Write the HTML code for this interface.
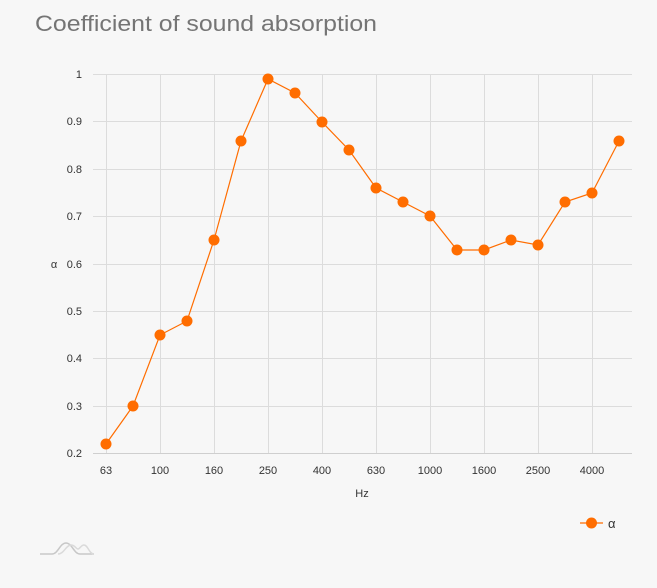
<!DOCTYPE html>
<html><head><meta charset="utf-8"><style>
html,body{margin:0;padding:0;background:#f7f7f7;}
svg{display:block;font-family:"Liberation Sans",sans-serif;}
</style></head><body>
<svg width="657" height="588" viewBox="0 0 657 588" xmlns="http://www.w3.org/2000/svg">
<rect width="657" height="588" fill="#f7f7f7"/>
<text x="35" y="31" font-size="22" fill="#757575" textLength="342" lengthAdjust="spacingAndGlyphs">Coefficient of sound absorption</text>
<g stroke="#dcdcdc" stroke-width="1">
<line x1="93" x2="632" y1="74.5" y2="74.5"/>
<line x1="93" x2="632" y1="121.5" y2="121.5"/>
<line x1="93" x2="632" y1="169.5" y2="169.5"/>
<line x1="93" x2="632" y1="216.5" y2="216.5"/>
<line x1="93" x2="632" y1="264.5" y2="264.5"/>
<line x1="93" x2="632" y1="311.5" y2="311.5"/>
<line x1="93" x2="632" y1="358.5" y2="358.5"/>
<line x1="93" x2="632" y1="406.5" y2="406.5"/>
<line x1="106.5" x2="106.5" y1="74" y2="453"/>
<line x1="160.5" x2="160.5" y1="74" y2="453"/>
<line x1="214.5" x2="214.5" y1="74" y2="453"/>
<line x1="268.5" x2="268.5" y1="74" y2="453"/>
<line x1="322.5" x2="322.5" y1="74" y2="453"/>
<line x1="376.5" x2="376.5" y1="74" y2="453"/>
<line x1="430.5" x2="430.5" y1="74" y2="453"/>
<line x1="484.5" x2="484.5" y1="74" y2="453"/>
<line x1="538.5" x2="538.5" y1="74" y2="453"/>
<line x1="592.5" x2="592.5" y1="74" y2="453"/>
</g>
<line x1="93" x2="632" y1="453.5" y2="453.5" stroke="#cfcfcf"/>
<g font-size="11" fill="#333" text-anchor="end">
<text x="82" y="78">1</text><text x="82" y="125">0.9</text><text x="82" y="173">0.8</text><text x="82" y="220">0.7</text><text x="82" y="268">0.6</text><text x="82" y="315">0.5</text><text x="82" y="362">0.4</text><text x="82" y="410">0.3</text><text x="82" y="457">0.2</text>
</g>
<text x="54" y="268" font-size="11" fill="#333" text-anchor="middle">α</text>
<g font-size="11" fill="#333" text-anchor="middle">
<text x="106" y="474">63</text><text x="160" y="474">100</text><text x="214" y="474">160</text><text x="268" y="474">250</text><text x="322" y="474">400</text><text x="376" y="474">630</text><text x="430" y="474">1000</text><text x="484" y="474">1600</text><text x="538" y="474">2500</text><text x="592" y="474">4000</text>
</g>
<text x="362" y="497" font-size="11" fill="#333" text-anchor="middle">Hz</text>
<polyline fill="none" stroke="#ff6d00" stroke-width="1.2" points="106,444 133,406 160,335 187,321 214,240 241,141 268,79 295,93 322,122 349,150 376,188 403,202 430,216 457,250 484,250 511,240 538,245 565,202 592,193 619,141"/>
<g fill="#ff6d00">
<circle cx="106" cy="444" r="5.5"/><circle cx="133" cy="406" r="5.5"/><circle cx="160" cy="335" r="5.5"/><circle cx="187" cy="321" r="5.5"/><circle cx="214" cy="240" r="5.5"/><circle cx="241" cy="141" r="5.5"/><circle cx="268" cy="79" r="5.5"/><circle cx="295" cy="93" r="5.5"/><circle cx="322" cy="122" r="5.5"/><circle cx="349" cy="150" r="5.5"/><circle cx="376" cy="188" r="5.5"/><circle cx="403" cy="202" r="5.5"/><circle cx="430" cy="216" r="5.5"/><circle cx="457" cy="250" r="5.5"/><circle cx="484" cy="250" r="5.5"/><circle cx="511" cy="240" r="5.5"/><circle cx="538" cy="245" r="5.5"/><circle cx="565" cy="202" r="5.5"/><circle cx="592" cy="193" r="5.5"/><circle cx="619" cy="141" r="5.5"/>
</g>
<line x1="580" x2="603" y1="523" y2="523" stroke="#ff6d00" stroke-width="1.2"/>
<circle cx="591.5" cy="523" r="5.5" fill="#ff6d00"/>
<text x="608" y="528" font-size="13" fill="#333">α</text>
<g fill="none" stroke="#c8c8c8" stroke-width="1.5">
<path d="M40,554 L52,554 C58,554 60,543 66,543 C72,543 74,554 80,554 L94,554"/>
<path d="M58,554 C64,554 66,545 71,545 C75,545 76,549 78,549 C80,549 81,545 84,545 C88,545 89,554 94,554" stroke="#dadada"/>
</g>
</svg>
</body></html>
